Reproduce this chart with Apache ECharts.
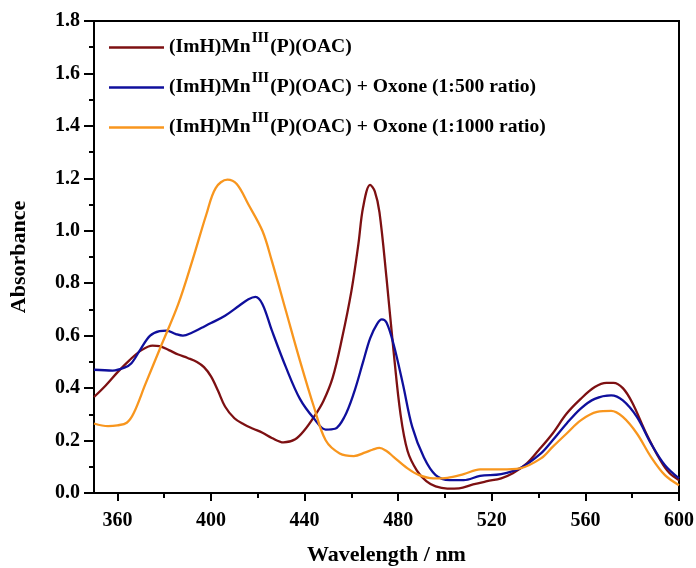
<!DOCTYPE html>
<html><head><meta charset="utf-8">
<script src="https://cdn.jsdelivr.net/npm/echarts@6/dist/echarts.min.js"></script>
<style>html,body{margin:0;padding:0;background:#fff}#c{width:696px;height:568px}</style>
</head><body><div id="c"></div>
<script>
const seriesNames = [
  '(ImH)MnIII(P)(OAC)',
  '(ImH)MnIII(P)(OAC) + Oxone (1:500 ratio)',
  '(ImH)MnIII(P)(OAC) + Oxone (1:1000 ratio)'
];
const xTickLabels = [360, 400, 440, 480, 520, 560, 600];
const xMinorTicks = [380, 420, 460, 500, 540, 580];

const wlA = [350,355,360,365,370,375,378,382,386,390,394,397,400,403,406,410,414,418,422,426,431,436,440,444,448,452,456,460,463,465,468,470,472,475,478,481,484,488,492,496,501,506,512,518,524,529,535,540,546,552,558,564,569,572,576,580,586,592,596,600];
const absA = [0.366,0.41,0.46,0.505,0.543,0.562,0.56,0.545,0.528,0.515,0.5,0.48,0.445,0.39,0.33,0.285,0.262,0.245,0.23,0.21,0.193,0.205,0.24,0.29,0.35,0.44,0.59,0.77,0.95,1.09,1.175,1.15,1.07,0.82,0.543,0.3,0.16,0.085,0.045,0.025,0.017,0.018,0.033,0.045,0.056,0.075,0.113,0.163,0.227,0.303,0.359,0.404,0.42,0.42,0.4,0.345,0.227,0.125,0.075,0.049];

const wlB = [350,358,363,366,370,374,378,381,385,388,392,396,400,406,412,416,419,422,426,432,438,444,449,453,457,461,465,468,471,473,475,478,482,486,491,496,502,508,515,524,532,541,546,552,558,564,571,576,582,588,594,600];
const absB = [0.47,0.467,0.478,0.495,0.55,0.6,0.617,0.619,0.606,0.6,0.612,0.63,0.648,0.676,0.714,0.739,0.748,0.72,0.62,0.48,0.359,0.284,0.242,0.245,0.29,0.38,0.5,0.59,0.645,0.662,0.65,0.568,0.416,0.252,0.135,0.068,0.049,0.049,0.065,0.072,0.094,0.151,0.201,0.265,0.322,0.359,0.372,0.353,0.29,0.189,0.106,0.056];

const wlC = [350,356,360,364,367,372,379,386,392,398,402,407,411,416,422,426,432,438,444,449,455,461,466,469,472,475,478,484,489,495,501,508,515,524,532,541,546,552,558,565,571,576,582,588,594,600];
const absC = [0.265,0.255,0.258,0.268,0.305,0.416,0.568,0.72,0.885,1.062,1.163,1.195,1.178,1.1,0.999,0.885,0.695,0.505,0.328,0.201,0.151,0.141,0.155,0.165,0.172,0.16,0.138,0.094,0.068,0.056,0.058,0.072,0.09,0.09,0.094,0.132,0.176,0.227,0.277,0.309,0.313,0.29,0.227,0.138,0.068,0.03];

const colors = ['#7d1012', '#0f0f9c', '#f8961e'];
const FONT = '"Liberation Serif","Times New Roman",serif';

function pairs(xs, ys) { return xs.map((x, i) => [x, ys[i]]); }
const allData = [pairs(wlA, absA), pairs(wlB, absB), pairs(wlC, absC)];

const chart = echarts.init(document.getElementById('c'), null, {renderer: 'canvas'});
chart.setOption({
  animation: false,
  backgroundColor: '#fff',
  grid: {left: 94, right: 17, top: 21, bottom: 75, containLabel: false, outerBoundsMode: 'none',
    show: true, borderColor: '#000', borderWidth: 2, backgroundColor: 'transparent'},
  legend: {
    orient: 'vertical', left: 104, top: 26, itemGap: 14,
    itemWidth: 55, itemHeight: 2.5, icon: 'rect',
    data: seriesNames,
    formatter: function (name) {
      const parts = name.split('III');
      return '{a|' + parts[0] + '}{s|III}{a|' + parts[1] + '}';
    },
    textStyle: {
      rich: {
        a: {fontFamily: FONT, fontWeight: 'bold', fontSize: 19.6, color: '#000', lineHeight: 19, verticalAlign: 'bottom'},
        s: {fontFamily: FONT, fontWeight: 'bold', fontSize: 15, color: '#000', lineHeight: 15, padding: [0, 1, 11, 1], verticalAlign: 'bottom'}
      }
    }
  },
  xAxis: [{
    type: 'value', min: 350, max: 600,
    name: 'Wavelength / nm', nameLocation: 'middle', nameGap: 51,
    nameTextStyle: {fontFamily: FONT, fontWeight: 'bold', fontSize: 22, color: '#000'},
    axisLine: {show: true, lineStyle: {color: '#000', width: 2}},
    axisTick: {show: true, length: 8, lineStyle: {color: '#000', width: 2}, customValues: xTickLabels},
    axisLabel: {fontFamily: FONT, fontWeight: 'bold', fontSize: 20, color: '#000', margin: 18, customValues: xTickLabels},
    splitLine: {show: false}
  }, {
    type: 'value', min: 350, max: 600, position: 'bottom', gridIndex: 0,
    axisLine: {show: false},
    axisTick: {show: true, length: 5, lineStyle: {color: '#000', width: 2}, customValues: xMinorTicks},
    axisLabel: {show: false},
    splitLine: {show: false}
  }],
  yAxis: {
    type: 'value', min: 0, max: 1.8, interval: 0.2,
    name: 'Absorbance', nameLocation: 'middle', nameGap: 64,
    nameTextStyle: {fontFamily: FONT, fontWeight: 'bold', fontSize: 22, color: '#000'},
    axisLine: {show: true, lineStyle: {color: '#000', width: 2}},
    axisTick: {show: true, length: 10, lineStyle: {color: '#000', width: 2}},
    minorTick: {show: true, splitNumber: 2, length: 5, lineStyle: {color: '#000', width: 2}},
    axisLabel: {fontFamily: FONT, fontWeight: 'bold', fontSize: 20, color: '#000', margin: 14,
      formatter: v => v.toFixed(1)},
    splitLine: {show: false}
  },
  series: allData.map((d, i) => ({
    name: seriesNames[i], type: 'line', data: d, xAxisIndex: 0,
    symbol: 'none', showSymbol: false, smooth: 0.35,
    lineStyle: {color: colors[i], width: 2.3},
    itemStyle: {color: colors[i]}
  }))
});
</script></body></html>
